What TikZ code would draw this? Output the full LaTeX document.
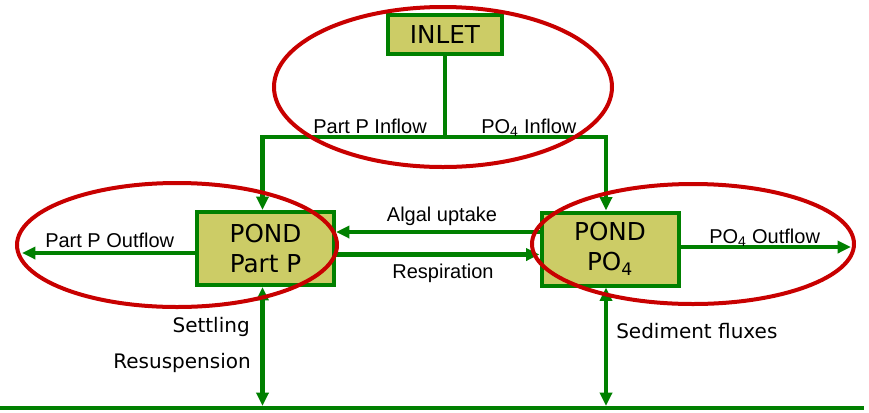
\documentclass[tikz,border=0pt]{standalone}
\usepackage{fontspec}
\setmainfont{DejaVu Sans}
\newfontfamily\arialfont{Liberation Sans}
\usetikzlibrary{arrows.meta}
\definecolor{flowgreen}{RGB}{0,128,0}
\definecolor{boxfill}{RGB}{204,204,102}
\definecolor{ringred}{RGB}{200,0,0}
\newcommand{\tipP}{Triangle[length=10pt,width=9pt]}
\tikzset{
    box/.style={draw=flowgreen, fill=boxfill, line width=3pt, rectangle, align=center,
        inner sep=0pt, font=\fontsize{18.5}{22.5}\selectfont},
    pond/.style={box, minimum width=102.75pt, minimum height=54.75pt},
    inlet/.style={box, minimum width=85.5pt, minimum height=29.25pt},
    flow/.style={flowgreen, line width=3.2pt},
    oneway/.style={flow, -{\tipP}},
    twoway/.style={flow, {\tipP}-{\tipP}},
    ring/.style={draw=ringred, line width=3pt},
    arlab/.style={font=\arialfont\fontsize{15}{18}\selectfont, inner sep=0pt},
    vlab/.style={font=\fontsize{15}{18}\selectfont, inner sep=0pt}
}

\begin{document}
\begin{tikzpicture}[x=0.75pt, y=-0.75pt]
    \useasboundingbox (0,0) rectangle (869,412);

    % boxes
    \node[inlet] (inlet) at (445,34.5) {INLET};
    \node[pond] (partp) at (265.5,248.5) {POND\\Part P};
    \node[pond] (po4) at (610,249) {POND\\PO\textsubscript{4}};

    % helper points
    \coordinate (split) at (445,137);
    \coordinate (splitL) at (262.5,137);
    \coordinate (splitR) at (606,137);
    \coordinate (upY) at (0,232);
    \coordinate (respY) at (0,254.5);
    \coordinate (ppout) at (22,253);
    \coordinate (poout) at (851,247);
    \coordinate (baseW) at (0,408);
    \coordinate (baseE) at (864,408);
    \coordinate (baseL) at (262.5,406);
    \coordinate (baseR) at (606,406);

    % flows
    \draw[flow] (inlet) -- (split);
    \draw[oneway] (split) -- (splitL) -- (splitL |- partp.north);
    \draw[oneway] (split) -- (splitR) -- (splitR |- po4.north);
    \draw[oneway] (po4.west |- upY) -- (partp.east |- upY);
    \draw[oneway] (partp.east |- respY) -- (po4.west |- respY);
    \draw[oneway] (partp.west |- ppout) -- (ppout);
    \draw[oneway] (po4.east |- poout) -- (poout);
    \draw[flow] (baseW) -- (baseE);
    \draw[twoway] (partp.south -| baseL) -- (baseL);
    \draw[twoway] (po4.south -| baseR) -- (baseR);

    % labels
    \node[arlab, anchor=base east] (inPP) at (427,133) {Part P Inflow};
    \node[arlab, anchor=base west] (inPO) at (481,133) {PO\textsubscript{4} Inflow};
    \node[arlab, anchor=base] (algal) at (442,221) {Algal uptake};
    \node[arlab, anchor=base] (resp) at (443,278) {Respiration};
    \node[arlab, anchor=base west] (outPP) at (45,247) {Part P Outflow};
    \node[arlab, anchor=base west] (outPO) at (709,243) {PO\textsubscript{4} Outflow};
    \node[vlab, anchor=base east] (settle) at (250,332) {Settling};
    \node[vlab, anchor=base east] (resus) at (251,368) {Resuspension};
    \node[vlab, anchor=base west] (sedflux) at (616,338) {Sediment fluxes};

    % highlight rings
    \draw[ring] (443,87) ellipse [x radius=126.75pt, y radius=60pt];
    \draw[ring] (177,245) ellipse [x radius=120pt, y radius=46.5pt];
    \draw[ring] (693,244) ellipse [x radius=120.75pt, y radius=45pt];
\end{tikzpicture}
\end{document}
